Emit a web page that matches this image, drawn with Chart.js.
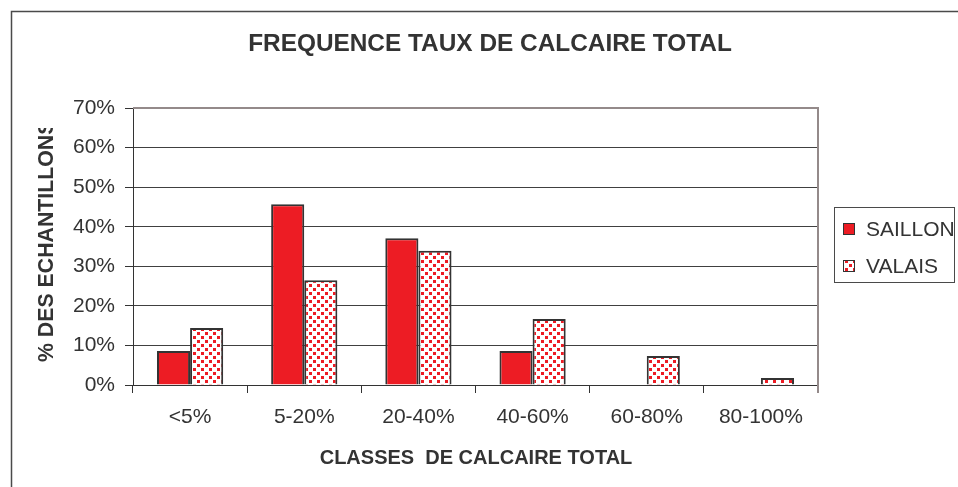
<!DOCTYPE html>
<html>
<head>
<meta charset="utf-8">
<script src="https://cdn.jsdelivr.net/npm/chart.js@4/dist/chart.umd.min.js"></script>
<style>
	html, body { margin: 0; padding: 0; background: #fff; }
	canvas { display: block; }
</style>
</head>
<body>
<canvas id="graph" width="958" height="487"></canvas>
<script>
"use strict";

const categories = ["<5%", "5-20%", "20-40%", "40-60%", "60-80%", "80-100%"];
const saillon = [8.6, 45.7, 37.1, 8.6, 0, 0];
const valais = [14.4, 26.5, 33.9, 16.7, 7.3, 1.8];
const seriesNames = ["SAILLON", "VALAIS"];
const title = "FREQUENCE TAUX DE CALCAIRE TOTAL";
const xTitle = "CLASSES  DE CALCAIRE TOTAL";
const yTitle = "% DES ECHANTILLONS";

const FONT = "'Liberation Sans', Arial, sans-serif";
const RED = "#ed1c24";
const DARK = "#333333";

// small red squares on white, like the office "dotted" fill
function dots() {
	const tile = document.createElement("canvas");
	tile.width = 8;
	tile.height = 8;
	const c = tile.getContext("2d");
	c.fillStyle = "#fff";
	c.fillRect(0, 0, 8, 8);
	c.fillStyle = RED;
	c.fillRect(1, 0, 3, 3);
	c.fillRect(5, 4, 3, 3);
	return c.createPattern(tile, "repeat");
}
const pattern = dots();

const decor = {
	id: "decor",
	beforeDraw(chart) {
		const ctx = chart.ctx;
		ctx.save();
		ctx.fillStyle = "#fff";
		ctx.fillRect(0, 0, chart.width, chart.height);
		ctx.restore();
	},
	afterDraw(chart) {
		const ctx = chart.ctx;
		const a = chart.chartArea;
		ctx.save();
		// outer frame
		ctx.strokeStyle = "#4a4a4a";
		ctx.lineWidth = 1.5;
		ctx.strokeRect(11.5, 11.5, 2000, 2000);
		// plot frame top / right
		ctx.strokeStyle = "#948a8a";
		ctx.lineWidth = 2;
		ctx.beginPath();
		ctx.moveTo(a.left, a.top);
		ctx.lineTo(a.right, a.top);
		ctx.lineTo(a.right, a.bottom + 8);
		ctx.stroke();

		ctx.fillStyle = DARK;
		ctx.textAlign = "center";
		ctx.textBaseline = "middle";
		ctx.font = "bold 24.4px " + FONT;
		ctx.fillText(title, 490, 44);
		ctx.font = "bold 20px " + FONT;
		ctx.fillText(xTitle, 476, 458);

		// y title, clipped at the top like the original
		ctx.save();
		ctx.beginPath();
		ctx.rect(0, 128, 130, 400);
		ctx.clip();
		ctx.translate(47, 362);
		ctx.rotate(-Math.PI / 2);
		ctx.textAlign = "left";
		ctx.font = "bold 21.3px " + FONT;
		ctx.fillText(yTitle, 0, 0);
		ctx.restore();

		// legend
		ctx.strokeStyle = "#4a4a4a";
		ctx.lineWidth = 1;
		ctx.strokeRect(834.5, 207.5, 120, 75);
		ctx.font = "21px " + FONT;
		ctx.textAlign = "left";
		const fills = [RED, pattern];
		seriesNames.forEach((name, i) => {
			const y = 229 + i * 37;
			ctx.fillStyle = fills[i];
			ctx.fillRect(843, y - 6, 12, 12);
			ctx.strokeStyle = DARK;
			ctx.lineWidth = 1;
			ctx.strokeRect(843.5, y - 5.5, 11, 11);
			ctx.fillStyle = DARK;
			ctx.fillText(name, 866, y + 1);
		});
		ctx.restore();
	},
};

new Chart(document.querySelector("#graph").getContext("2d"), {
	type: "bar",
	data: {
		labels: categories,
		datasets: [
			{
				label: seriesNames[0],
				data: saillon,
				backgroundColor: RED,
				borderColor: DARK,
				borderWidth: 2,
			},
			{
				label: seriesNames[1],
				data: valais,
				backgroundColor: pattern,
				borderColor: DARK,
				borderWidth: 2,
			},
		],
	},
	options: {
		responsive: false,
		devicePixelRatio: 1,
		animation: false,
		layout: { padding: { top: 108, right: 140, left: 0, bottom: 0 } },
		datasets: { bar: { categoryPercentage: 0.58, barPercentage: 1 } },
		plugins: {
			legend: { display: false },
			title: { display: false },
			tooltip: { enabled: false },
		},
		scales: {
			x: {
				afterFit(scale) {
					scale.height = 102;
				},
				grid: {
					offset: true,
					drawOnChartArea: false,
					tickLength: 8,
					color: DARK,
				},
				border: { color: DARK, width: 1 },
				ticks: {
					color: DARK,
					padding: 12,
					maxRotation: 0,
					font: { family: FONT, size: 21 },
				},
			},
			y: {
				min: 0,
				max: 70,
				afterFit(scale) {
					scale.width = 133;
				},
				grid: {
					color: (c) => (c.tick && c.tick.value === 70 ? "#948a8a" : "#404040"),
					tickColor: DARK,
					tickLength: 8,
				},
				border: { color: DARK, width: 1 },
				ticks: {
					stepSize: 10,
					color: DARK,
					padding: 10,
					font: { family: FONT, size: 21 },
					callback: (v) => v + "%",
				},
			},
		},
	},
	plugins: [decor],
});
</script>
</body>
</html>
